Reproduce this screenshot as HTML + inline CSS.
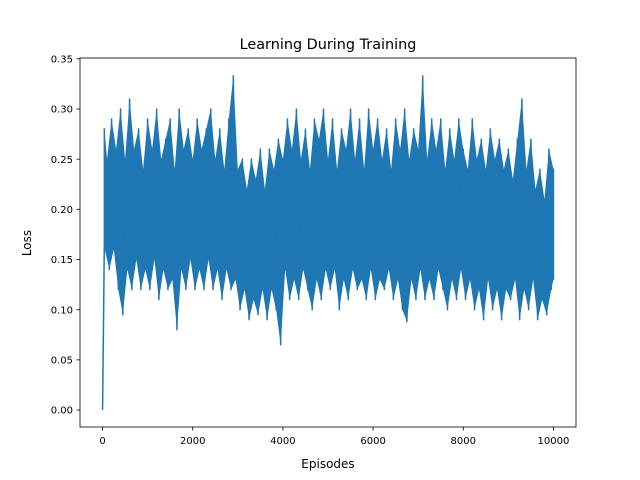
<!DOCTYPE html>
<html><head><meta charset="utf-8"><style>body{margin:0;background:#fff}svg{display:block;font-family:"DejaVu Sans","Liberation Sans",sans-serif}</style></head>
<body>
<svg id="chart" width="640" height="480" viewBox="0 0 640 480">
<rect width="640" height="480" fill="#fff"/>
<text x="328" y="49" text-anchor="middle" font-size="14.4">Learning During Training</text>
<g id="plot"></g>
<rect x="80" y="58" width="496" height="369" fill="none" stroke="#000" stroke-width="0.8"/>
<text x="328" y="468" text-anchor="middle" font-size="12">Episodes</text>
<text x="31" y="243" text-anchor="middle" font-size="12" transform="rotate(-90 31 243)">Loss</text>
</svg>
<script>
const startX = [0, 20, 40];
const startY = [0.0, 0.08, 0.17];
const highs = [0.28,0.25,0.29,0.26,0.30,0.25,0.31,0.26,0.28,0.24,
0.29,0.26,0.30,0.25,0.27,0.29,0.24,0.30,0.26,0.28,
0.25,0.29,0.26,0.28,0.30,0.25,0.28,0.24,0.29,0.333,
0.24,0.25,0.22,0.25,0.23,0.26,0.22,0.26,0.24,0.27,
0.25,0.29,0.26,0.30,0.25,0.28,0.24,0.29,0.27,0.30,
0.25,0.29,0.24,0.28,0.26,0.30,0.25,0.29,0.24,0.30,
0.26,0.29,0.25,0.28,0.24,0.29,0.26,0.30,0.25,0.28,
0.26,0.333,0.25,0.29,0.26,0.29,0.24,0.28,0.25,0.29,
0.26,0.24,0.29,0.25,0.27,0.24,0.28,0.25,0.27,0.24,
0.26,0.23,0.27,0.31,0.24,0.27,0.22,0.24,0.21,0.26,0.24];
const lows = [0.16,0.14,0.16,0.12,0.095,0.14,0.12,0.15,0.12,0.14,
0.12,0.15,0.11,0.14,0.12,0.13,0.08,0.14,0.12,0.15,
0.12,0.14,0.12,0.15,0.12,0.14,0.11,0.14,0.12,0.13,
0.10,0.12,0.09,0.11,0.095,0.12,0.09,0.12,0.10,0.065,
0.14,0.11,0.13,0.11,0.14,0.12,0.10,0.13,0.11,0.14,
0.12,0.14,0.10,0.13,0.11,0.14,0.12,0.13,0.11,0.14,
0.11,0.13,0.12,0.14,0.11,0.13,0.10,0.088,0.13,0.11,
0.14,0.11,0.13,0.11,0.14,0.12,0.10,0.13,0.11,0.14,
0.11,0.13,0.10,0.12,0.09,0.13,0.10,0.12,0.09,0.12,
0.11,0.13,0.09,0.12,0.10,0.13,0.09,0.11,0.095,0.12,0.13];
const step = 100;
const xTicks = [0,2000,4000,6000,8000,10000];
const xTickLabels = ["0","2000","4000","6000","8000","10000"];
const yTicks = [0,0.05,0.10,0.15,0.20,0.25,0.30,0.35];
const yTickLabels = ["0.00","0.05","0.10","0.15","0.20","0.25","0.30","0.35"];

const NS="http://www.w3.org/2000/svg";
const X0=80,X1=576,Y0=427,Y1=58;
const xMin=-500,xMax=10500,yMin=-0.0169,yMax=0.3508;
const sx=v=>X0+(v-xMin)/(xMax-xMin)*(X1-X0);
const sy=v=>Y0-(v-yMin)/(yMax-yMin)*(Y0-Y1);
const svg=document.getElementById('chart');
const plot=document.getElementById('plot');
function mk(t,a){const e=document.createElementNS(NS,t);for(const k in a)e.setAttribute(k,a[k]);return e;}

let env=[];
highs.forEach((h,i)=>env.push(sx(Math.max(i*step,40))+','+sy(h)));
for(let i=lows.length-1;i>=0;i--)env.push(sx(Math.min(Math.max(i*step+50,40),10000))+','+sy(lows[i]));
const fill=mk('polygon',{points:env.join(' '),fill:'#1f77b4'});


plot.appendChild(fill);

let pts=[];
startX.forEach((x,i)=>pts.push(sx(x)+','+sy(startY[i])));
highs.forEach((h,i)=>{
  pts.push(sx(Math.max(i*step,40))+','+sy(h));
  pts.push(sx(Math.min(i*step+50,10000))+','+sy(lows[i]));
});
const line=mk('polyline',{points:pts.join(' '),fill:'none',stroke:'#1f77b4','stroke-width':1.5,'stroke-linejoin':'round'});


plot.appendChild(line);

xTicks.forEach((t,i)=>{
  const x=sx(t);
  const tk=mk('line',{x1:x,x2:x,y1:Y0,y2:Y0+3.5,stroke:'#000','stroke-width':0.8});
  
  
  svg.appendChild(tk);
  const tx=mk('text',{x:x,y:Y0+17,'text-anchor':'middle','font-size':10});
  tx.textContent=xTickLabels[i];
  
  
  svg.appendChild(tx);
});
yTicks.forEach((t,i)=>{
  const y=sy(t);
  const tk=mk('line',{x1:X0-3.5,x2:X0,y1:y,y2:y,stroke:'#000','stroke-width':0.8});
  
  
  svg.appendChild(tk);
  const tx=mk('text',{x:X0-7,y:y+3.6,'text-anchor':'end','font-size':10});
  tx.textContent=yTickLabels[i];
  
  
  svg.appendChild(tx);
});
</script>
</body></html>
